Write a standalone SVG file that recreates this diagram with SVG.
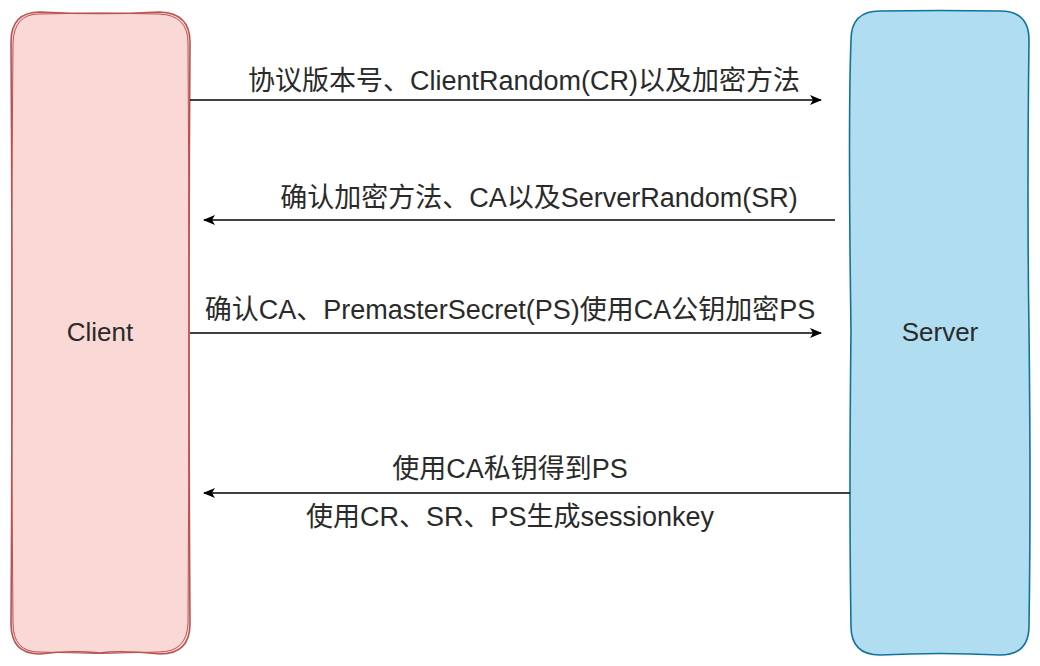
<svg xmlns="http://www.w3.org/2000/svg" width="1040" height="666" viewBox="0 0 1040 666">
<style>
text{font-family:"Liberation Sans","Noto Sans CJK SC",sans-serif;font-size:27px;fill:#2a2a2a;text-anchor:middle;dominant-baseline:central}
.node{font-size:26px}
.conn{stroke:#000;stroke-width:1.6;fill:none;marker-end:url(#arr)}
</style>
<defs>
<marker id="arr" markerWidth="12" markerHeight="10" refX="11" refY="5" orient="auto" markerUnits="userSpaceOnUse">
<path d="M0,0 L12,5 L0,10 L3,5 Z" fill="#000"/>
</marker>
</defs>
<rect width="1040" height="666" fill="#fff"/>
<g id="client">
<path d="M40,12 Q100,15 160,12 Q190,13 190,42 Q188,330 190,624 Q190,654 160,654 Q120,650 100,653 Q70,650 40,654 Q11,654 11,624 Q13,330 11,42 Q11,12 40,12 Z" fill="#f9d8d5" stroke="#b85450" stroke-width="1.6"/>
<path d="M39,14 Q100,12 159,14 Q188,15 188,43 Q190,330 188,623 Q187,652 159,652 Q100,655 39,652 Q13,652 13,623 Q10,330 13,43 Q14,14 39,14 Z" fill="none" stroke="#b85450" stroke-width="1"/>
<text class="node" x="100" y="332">Client</text>
</g>
<g id="server">
<path d="M880,11 Q940,10 1000,11 Q1029,11 1029,40 Q1027,200 1029,330 Q1031,500 1029,626 Q1029,655 1000,655 Q940,652 880,655 Q851,655 851,626 Q849,500 851,330 Q848,120 851,40 Q851,11 880,11 Z" fill="#b1ddf0" stroke="#10739e" stroke-width="1.6"/>
<text class="node" x="940" y="332">Server</text>
</g>
<g id="connectors">
<line class="conn" x1="190" y1="100" x2="821" y2="100"/>
<line class="conn" x1="835" y1="220" x2="204" y2="220"/>
<line class="conn" x1="190" y1="333" x2="821" y2="333"/>
<line class="conn" x1="850" y1="493" x2="204" y2="493"/>
<text x="524" y="81">协议版本号、ClientRandom(CR)以及加密方法</text>
<text x="539" y="198">确认加密方法、CA以及ServerRandom(SR)</text>
<text x="510" y="310">确认CA、PremasterSecret(PS)使用CA公钥加密PS</text>
<text x="510" y="469">使用CA私钥得到PS</text>
<text x="510" y="517">使用CR、SR、PS生成sessionkey</text>
</g>
</svg>
